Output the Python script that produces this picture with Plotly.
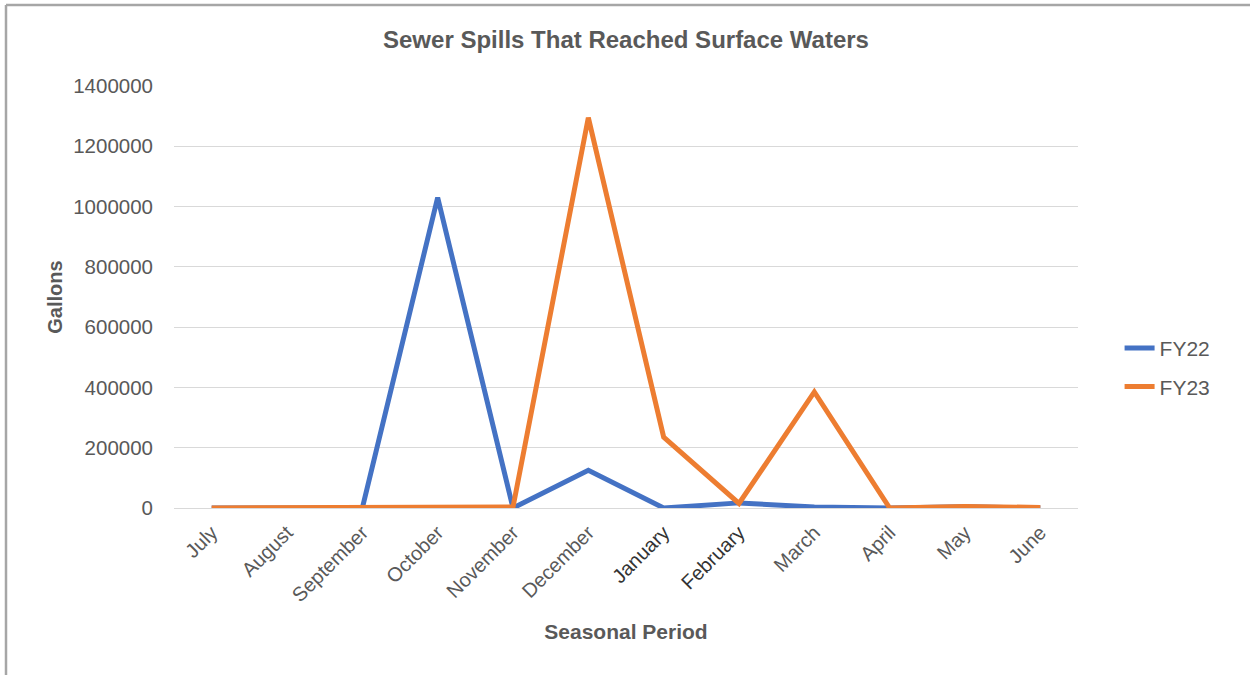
import plotly.graph_objects as go

# Monthly sewer spill volumes (gallons) reaching surface waters
months = ["July", "August", "September", "October", "November", "December",
          "January", "February", "March", "April", "May", "June"]
fy22 = [0, 2000, 0, 1030000, 0, 125000, 0, 17000, 3000, 0, 4000, 0]
fy23 = [0, 1000, 0, 0, 3000, 1295000, 235000, 15000, 385000, 0, 5000, 2000]
y_ticks = [0, 200000, 400000, 600000, 800000, 1000000, 1200000, 1400000]

FONT = "Liberation Sans, Arial, sans-serif"
GREY = "#595959"

# January and February labels render a little darker
tick_text = [
    f"<span style='color:#333333'>{m}</span>" if m in ("January", "February") else m
    for m in months
]

fig = go.Figure()
fig.add_trace(go.Scatter(x=months, y=fy22, name="FY22", mode="lines",
                         legendgroup="fy22",
                         line=dict(color="#4472C4", width=5)))
fig.add_trace(go.Scatter(x=months, y=fy23, name="FY23", mode="lines",
                         legendgroup="fy23",
                         line=dict(color="#ED7D31", width=5)))

fig.update_layout(
    width=1250, height=675,
    margin=dict(l=174, r=172, t=86, b=167),
    paper_bgcolor="white", plot_bgcolor="white",
    font=dict(family=FONT, size=20, color=GREY),
    title=dict(text="<b>Sewer Spills That Reached Surface Waters</b>",
               x=(174 + 1078) / 2 / 1250, xanchor="center",
               y=1 - 40 / 675, yanchor="middle",
               font=dict(family=FONT, size=24, color=GREY)),
    legend=dict(x=1.046, xanchor="left", y=0.333, yanchor="middle",
                font=dict(family=FONT, size=21, color=GREY),
                tracegroupgap=8, bgcolor="rgba(0,0,0,0)"),
    showlegend=True,
)

fig.update_xaxes(
    type="category", range=[-0.5, 11.5],
    tickmode="array", tickvals=months, ticktext=tick_text,
    tickangle=-45, tickfont=dict(family=FONT, size=20, color=GREY),
    showgrid=False, showline=False, zeroline=False, ticks="",
    ticklabelstandoff=8,
    title=dict(text="<b>Seasonal Period</b>", standoff=19,
               font=dict(family=FONT, size=21, color=GREY)),
)
fig.update_yaxes(
    range=[0, 1400000], tickmode="array", tickvals=y_ticks,
    ticktext=[str(v) for v in y_ticks],
    tickfont=dict(family=FONT, size=20.5, color=GREY),
    showgrid=True, gridcolor="#D9D9D9", gridwidth=1.3,
    zeroline=True, zerolinecolor="#D9D9D9", zerolinewidth=1.3,
    showline=False, ticks="", ticklabelstandoff=20,
    title=dict(text="<b>Gallons</b>", standoff=5,
               font=dict(family=FONT, size=20, color=GREY)),
)

# Frame line around the chart area
fig.add_shape(type="line", xref="paper", yref="paper",
              x0=-168 / 904, x1=1250 / 904, y0=1 + 81 / 422, y1=1 + 81 / 422,
              line=dict(color="#A6A6A6", width=2.5))
fig.add_shape(type="line", xref="paper", yref="paper",
              x0=-168 / 904, x1=-168 / 904, y0=1 + 81 / 422, y1=-170 / 422,
              line=dict(color="#A6A6A6", width=2.5))

fig.write_html("out.html")
